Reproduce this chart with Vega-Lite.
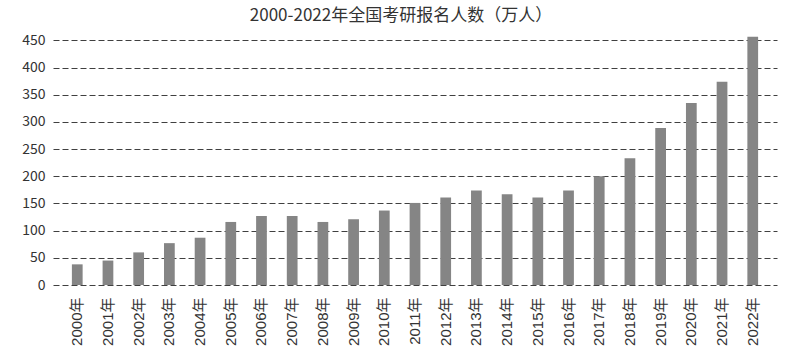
{
  "$schema": "https://vega.github.io/schema/vega-lite/v6.json",
  "width": 724,
  "height": 250,
  "autosize": {"type": "none"},
  "padding": {"left": 53, "top": 35, "right": 23, "bottom": 75},
  "background": "white",
  "title": {
    "text": "2000-2022年全国考研报名人数（万人）",
    "font": "Noto Sans CJK SC",
    "fontSize": 17,
    "fontWeight": "normal",
    "color": "#333333",
    "anchor": "middle",
    "dx": -14,
    "offset": 8
  },
  "data": {
    "values": [
      {"year": "2000年", "value": 38},
      {"year": "2001年", "value": 45},
      {"year": "2002年", "value": 60},
      {"year": "2003年", "value": 77},
      {"year": "2004年", "value": 87},
      {"year": "2005年", "value": 116},
      {"year": "2006年", "value": 127},
      {"year": "2007年", "value": 127},
      {"year": "2008年", "value": 116},
      {"year": "2009年", "value": 121},
      {"year": "2010年", "value": 137},
      {"year": "2011年", "value": 151},
      {"year": "2012年", "value": 161},
      {"year": "2013年", "value": 174},
      {"year": "2014年", "value": 167},
      {"year": "2015年", "value": 161},
      {"year": "2016年", "value": 174},
      {"year": "2017年", "value": 200},
      {"year": "2018年", "value": 233},
      {"year": "2019年", "value": 289},
      {"year": "2020年", "value": 335},
      {"year": "2021年", "value": 374},
      {"year": "2022年", "value": 457}
    ]
  },
  "mark": {"type": "bar", "color": "#858585"},
  "encoding": {
    "x": {
      "field": "year",
      "type": "nominal",
      "sort": null,
      "scale": {"paddingInner": 0.65, "paddingOuter": 0.615},
      "axis": {
        "title": null,
        "labelAngle": -90,
        "labelFont": "Liberation Sans, Noto Sans CJK SC",
        "labelFontSize": 15,
        "labelColor": "#333333",
        "labelPadding": 12,
        "domain": false,
        "ticks": false,
        "grid": false
      }
    },
    "y": {
      "field": "value",
      "type": "quantitative",
      "scale": {"domain": [0, 460], "nice": false},
      "axis": {
        "title": null,
        "values": [0, 50, 100, 150, 200, 250, 300, 350, 400, 450],
        "labelFont": "Noto Sans CJK SC",
        "labelFontSize": 14,
        "labelColor": "#333333",
        "labelPadding": 8,
        "domain": false,
        "ticks": false,
        "grid": true,
        "gridColor": "#404040",
        "gridDash": [6, 3],
        "gridWidth": 1,
        "gridOpacity": 1
      }
    }
  },
  "config": {
    "view": {"stroke": null},
    "axis": {"zindex": 0}
  }
}
